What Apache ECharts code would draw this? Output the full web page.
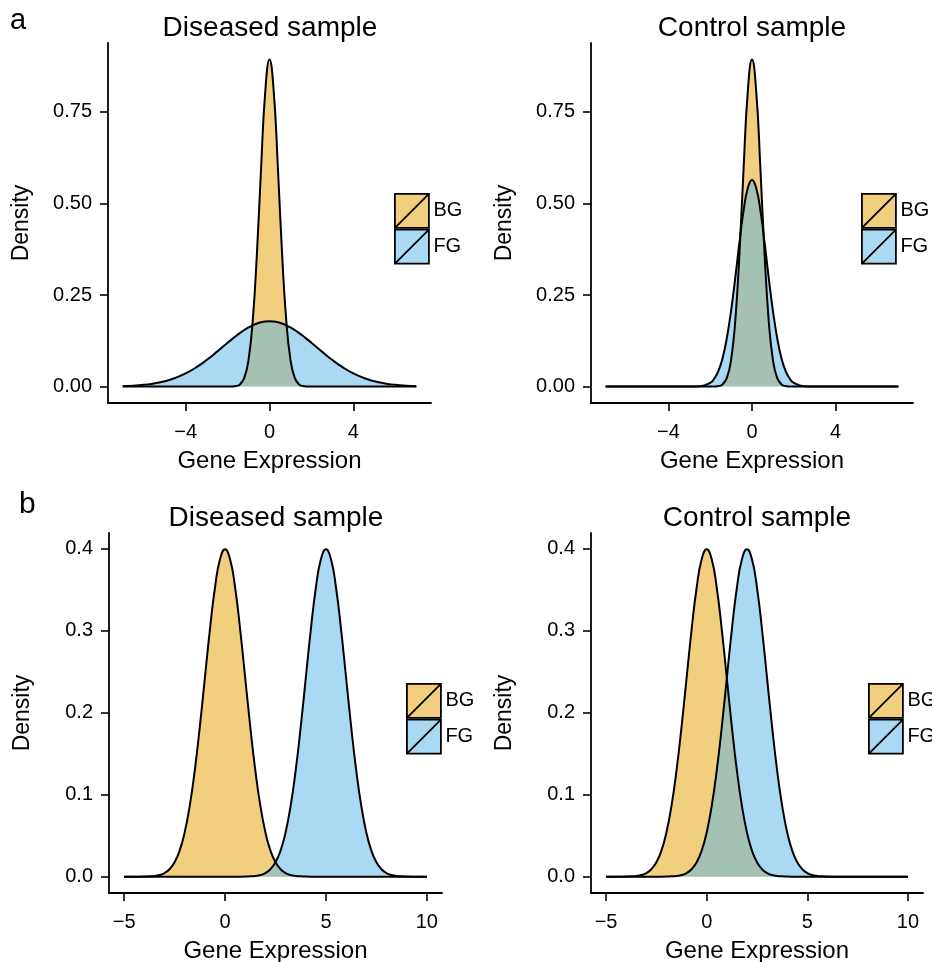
<!DOCTYPE html>
<html>
<head>
<meta charset="utf-8">
<script src="https://cdn.jsdelivr.net/npm/echarts@6/dist/echarts.min.js"></script>
<style>
  html, body { margin: 0; padding: 0; background: #fff; }
  #chart { width: 932px; height: 962px; }
</style>
</head>
<body>
<div id="chart"></div>
<script>
// panel a: x grid (finer near 0 for the narrow peak)
const xA = [-7, -6.5, -6, -5.5, -5, -4.5, -4, -3.5, -3, -2.5, -2, -1.8, -1.6, -1.4, -1.2, -1, -0.8, -0.6, -0.4, -0.2,
  0, 0.2, 0.4, 0.6, 0.8, 1, 1.2, 1.4, 1.6, 1.8, 2, 2.5, 3, 3.5, 4, 4.5, 5, 5.5, 6, 6.5, 7];
const bgA = [0, 0, 0, 0, 0, 0, 0, 0, 0, 0, 0, 0.0003, 0.0015, 0.0066, 0.0244, 0.0732, 0.180, 0.363, 0.598, 0.807,
  0.893, 0.807, 0.598, 0.363, 0.180, 0.0732, 0.0244, 0.0066, 0.0015, 0.0003, 0, 0, 0, 0, 0, 0, 0, 0, 0, 0, 0];
const fgDiseasedA = [0.0013, 0.0026, 0.0049, 0.0087, 0.0146, 0.0236, 0.0360, 0.0524, 0.0725, 0.0955, 0.1196, 0.1290,
  0.1381, 0.1466, 0.1545, 0.1614, 0.1673, 0.1721, 0.1756, 0.1777, 0.1784, 0.1777, 0.1756, 0.1721, 0.1673, 0.1614,
  0.1545, 0.1466, 0.1381, 0.1290, 0.1196, 0.0955, 0.0725, 0.0524, 0.0360, 0.0236, 0.0146, 0.0087, 0.0049, 0.0026, 0.0013];
const fgControlA = [0, 0, 0, 0, 0, 0, 0, 0, 0.0001, 0.0011, 0.0103, 0.0221, 0.0436, 0.0795, 0.134, 0.2075, 0.297,
  0.394, 0.481, 0.542, 0.564, 0.542, 0.481, 0.394, 0.297, 0.2075, 0.134, 0.0795, 0.0436, 0.0221, 0.0103, 0.0011,
  0.0001, 0, 0, 0, 0, 0, 0, 0, 0];

// panel b
const xB = [-5, -4.75, -4.5, -4.25, -4, -3.75, -3.5, -3.25, -3, -2.75, -2.5, -2.25, -2, -1.75, -1.5, -1.25,
  -1, -0.75, -0.5, -0.25, 0, 0.25, 0.5, 0.75, 1, 1.25, 1.5, 1.75, 2, 2.25, 2.5, 2.75, 3, 3.25, 3.5, 3.75,
  4, 4.25, 4.5, 4.75, 5, 5.25, 5.5, 5.75, 6, 6.25, 6.5, 6.75, 7, 7.25, 7.5, 7.75, 8, 8.25, 8.5, 8.75,
  9, 9.25, 9.5, 9.75, 10];
const bgB = [0, 0, 0, 0,
  0.0001, 0.0004, 0.0009, 0.0020, 0.0044, 0.0091, 0.0175, 0.0317, 0.0540, 0.0863, 0.1295, 0.1826, 0.2420,
  0.3011, 0.3521, 0.3867, 0.3989, 0.3867, 0.3521, 0.3011, 0.2420, 0.1826, 0.1295, 0.0863, 0.0540, 0.0317,
  0.0175, 0.0091, 0.0044, 0.0020, 0.0009, 0.0004, 0.0001,
  0, 0, 0, 0, 0, 0, 0, 0, 0, 0, 0, 0, 0, 0, 0, 0, 0, 0, 0, 0, 0, 0, 0, 0];
const fgDiseasedB = [0, 0, 0, 0, 0, 0, 0, 0, 0, 0, 0, 0, 0, 0, 0, 0, 0, 0, 0, 0, 0, 0, 0, 0,
  0.0001, 0.0004, 0.0009, 0.0020, 0.0044, 0.0091, 0.0175, 0.0317, 0.0540, 0.0863, 0.1295, 0.1826, 0.2420,
  0.3011, 0.3521, 0.3867, 0.3989, 0.3867, 0.3521, 0.3011, 0.2420, 0.1826, 0.1295, 0.0863, 0.0540, 0.0317,
  0.0175, 0.0091, 0.0044, 0.0020, 0.0009, 0.0004, 0.0001,
  0, 0, 0, 0];
const fgControlB = [0, 0, 0, 0, 0, 0, 0, 0, 0, 0, 0, 0,
  0.0001, 0.0004, 0.0009, 0.0020, 0.0044, 0.0091, 0.0175, 0.0317, 0.0540, 0.0863, 0.1295, 0.1826, 0.2420,
  0.3011, 0.3521, 0.3867, 0.3989, 0.3867, 0.3521, 0.3011, 0.2420, 0.1826, 0.1295, 0.0863, 0.0540, 0.0317,
  0.0175, 0.0091, 0.0044, 0.0020, 0.0009, 0.0004, 0.0001,
  0, 0, 0, 0, 0, 0, 0, 0, 0, 0, 0, 0, 0, 0, 0, 0];

const xTicksA = [-4, 0, 4];
const yTicksA = [0, 0.25, 0.5, 0.75];
const xTicksB = [-5, 0, 5, 10];
const yTicksB = [0, 0.1, 0.2, 0.3, 0.4];

const titles = ['Diseased sample', 'Control sample', 'Diseased sample', 'Control sample'];
const groupNames = ['BG', 'FG'];

const FONT = 'Liberation Sans, Arial, Helvetica, sans-serif';
const BG_FILL = 'rgba(230,159,0,0.5)';
const FG_FILL = 'rgba(86,180,233,0.5)';

const grids = [
  { left: 108, top: 43, width: 323, height: 360 },
  { left: 591, top: 43, width: 322, height: 360 },
  { left: 109, top: 533, width: 333, height: 360 },
  { left: 591, top: 533, width: 332, height: 360 }
].map(g => Object.assign({ outerBoundsMode: 'none', containLabel: false }, g));

const axisLine = { show: true, onZero: false, lineStyle: { color: '#000', width: 1.8 } };
const minus = v => (v < 0 ? '\u2212' + Math.abs(v) : String(v));

const makeX = (i, min, max, ticks) => ({
  type: 'value', gridIndex: i, min, max,
  axisLine,
  axisTick: { show: true, length: 8, customValues: ticks, lineStyle: { color: '#000', width: 1.6 } },
  axisLabel: { customValues: ticks, formatter: minus, fontSize: 20, color: '#000', fontFamily: FONT, margin: 19 },
  splitLine: { show: false },
  name: 'Gene Expression', nameLocation: 'middle', nameGap: 46,
  nameTextStyle: { fontSize: 24, color: '#000', fontFamily: FONT }
});

const makeY = (i, min, max, ticks, digits) => ({
  type: 'value', gridIndex: i, min, max,
  axisLine,
  axisTick: { show: true, length: 8, customValues: ticks, lineStyle: { color: '#000', width: 1.6 } },
  axisLabel: { customValues: ticks, formatter: v => v.toFixed(digits), fontSize: 20, color: '#000', fontFamily: FONT, margin: 16 },
  splitLine: { show: false },
  name: 'Density', nameLocation: 'middle', nameGap: 75,
  nameTextStyle: { fontSize: 23, color: '#000', fontFamily: FONT }
});

const pairs = (xs, ys) => xs.map((x, k) => [x, ys[k]]);

const curve = (name, i, xs, ys, fill) => ({
  name, type: 'line', xAxisIndex: i, yAxisIndex: i,
  data: pairs(xs, ys),
  smooth: true, symbol: 'none',
  itemStyle: { color: fill },
  lineStyle: { color: '#000', width: 2 },
  areaStyle: { color: fill, opacity: 1 }
});

const keyIcon = 'path://M0,0L10,0L10,10L0,10Z M0,10L10,0';
const makeLegend = (left, top) => ({
  orient: 'vertical', left, top, padding: 0,
  itemWidth: 35, itemHeight: 34, itemGap: 0,
  selectedMode: false,
  textStyle: { fontSize: 20, color: '#000', fontFamily: FONT, padding: [0, 0, 0, -1] },
  data: [
    { name: groupNames[0], icon: keyIcon, itemStyle: { color: BG_FILL, borderColor: '#000', borderWidth: 1.8 } },
    { name: groupNames[1], icon: keyIcon, itemStyle: { color: FG_FILL, borderColor: '#000', borderWidth: 1.8 } }
  ]
});

const text = (str, x, y, size, align, vAlign) => ({
  type: 'text', x, y, silent: true,
  style: { text: str, fill: '#000', font: size + 'px ' + FONT, textAlign: align, textVerticalAlign: vAlign }
});

const chart = echarts.init(document.getElementById('chart'));
chart.setOption({
  animation: false,
  backgroundColor: '#fff',
  grid: grids,
  xAxis: [
    makeX(0, -7.7, 7.7, xTicksA),
    makeX(1, -7.7, 7.7, xTicksA),
    makeX(2, -5.75, 10.75, xTicksB),
    makeX(3, -5.75, 10.75, xTicksB)
  ],
  yAxis: [
    makeY(0, -0.0447, 0.9377, yTicksA, 2),
    makeY(1, -0.0447, 0.9377, yTicksA, 2),
    makeY(2, -0.0199, 0.4188, yTicksB, 1),
    makeY(3, -0.0199, 0.4188, yTicksB, 1)
  ],
  legend: [
    makeLegend(394, 193),
    makeLegend(861, 193),
    makeLegend(406, 683),
    makeLegend(868, 683)
  ],
  series: [
    curve('BG', 0, xA, bgA, BG_FILL),
    curve('FG', 0, xA, fgDiseasedA, FG_FILL),
    curve('BG', 1, xA, bgA, BG_FILL),
    curve('FG', 1, xA, fgControlA, FG_FILL),
    curve('BG', 2, xB, bgB, BG_FILL),
    curve('FG', 2, xB, fgDiseasedB, FG_FILL),
    curve('BG', 3, xB, bgB, BG_FILL),
    curve('FG', 3, xB, fgControlB, FG_FILL)
  ],
  graphic: [
    text('a', 10, 35, 29, 'left', 'bottom'),
    text('b', 19, 520, 30, 'left', 'bottom'),
    text(titles[0], 270, 28, 28, 'center', 'middle'),
    text(titles[1], 752, 28, 28, 'center', 'middle'),
    text(titles[2], 276, 518, 28, 'center', 'middle'),
    text(titles[3], 757, 518, 28, 'center', 'middle')
  ]
});
</script>
</body>
</html>
